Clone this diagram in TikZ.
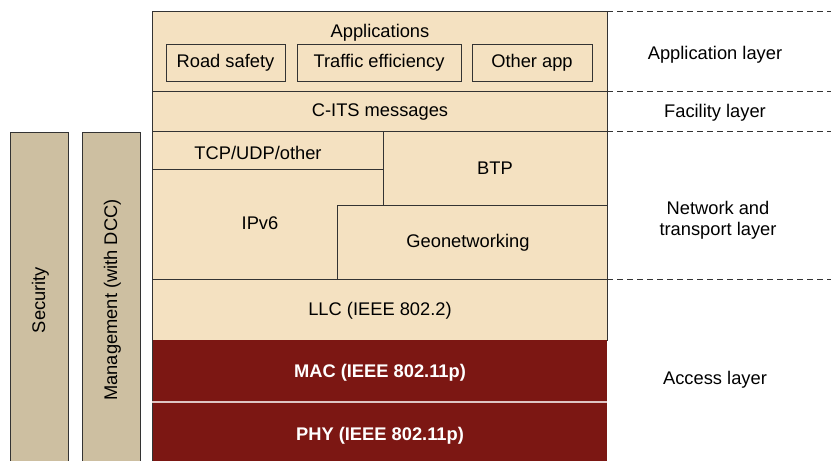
\documentclass[tikz,border=0pt]{standalone}
\usepackage{fontspec}
\setmainfont{Liberation Sans}
\definecolor{tan}{HTML}{F4E1C1}
\definecolor{side}{HTML}{CDBFA1}
\definecolor{dred}{HTML}{7C1713}
\definecolor{edge}{HTML}{333333}
\begin{document}
\begin{tikzpicture}[x=1pt,y=-1pt,
  txt/.style={font=\fontsize{18.3}{21}\selectfont, inner sep=0pt, align=center, yshift=-1.5pt},
  rtxt/.style={font=\fontsize{18.3}{21}\selectfont, inner sep=0pt, rotate=90},
  wtxt/.style={txt, text=white, font=\fontsize{18.3}{21}\selectfont\bfseries},
  box/.style={draw=edge, line width=1pt, fill=tan},
  sidebox/.style={draw=edge, line width=1pt, fill=side},
  sep/.style={draw=edge, line width=1pt, dash pattern=on 6pt off 4pt}]
\useasboundingbox (0,0) rectangle (831,461);
% side columns
\draw[sidebox] (10,132) rectangle (68,470);
\draw[sidebox] (82,132) rectangle (140,470);
\node[rtxt] (sec) at (40.5,300) {Security};
\node[rtxt] (mgmt) at (112.5,300) {Management (with DCC)};
% stack
\draw[box] (152,11) rectangle (607,91);
\node[txt] (apps) at (380,31) {Applications};
\node[box, txt, yshift=1.5pt, minimum width=119pt, minimum height=37pt] (road) at (225.5,62.5) {Road safety};
\node[box, txt, yshift=1.5pt, minimum width=164pt, minimum height=37pt] (traffic) at (379,62.5) {Traffic efficiency};
\node[box, txt, yshift=1.5pt, minimum width=120pt, minimum height=37pt] (other) at (532,62.5) {Other app};
\draw[box] (152,91) rectangle (607,131);
\node[txt] (cits) at (380,111) {C-ITS messages};
\draw[box] (152,131) rectangle (607,279);
\draw[draw=edge, line width=1pt] (152,169) -- (383,169);
\draw[draw=edge, line width=1pt] (383,131) -- (383,205);
\draw[draw=edge, line width=1pt] (337,279) -- (337,205) -- (607,205);
\node[txt] (tcp) at (258,151) {TCP/UDP/other};
\node[txt] (btp) at (495,167) {BTP};
\node[txt] (ipv6) at (260,222) {IPv6};
\node[txt] (geo) at (468,241) {Geonetworking};
\draw[box] (152,279) rectangle (607,340);
\node[txt] (llc) at (380,309) {LLC (IEEE 802.2)};
\fill[dred] (152,340) rectangle (607,470);
\draw[draw=edge, line width=1pt] (152,340) -- (152,470);
\draw[color=white!75!dred, line width=1.2pt] (152,402) -- (607,402);
\node[wtxt] (mac) at (380,371) {MAC (IEEE 802.11p)};
\node[wtxt] (phy) at (380,434) {PHY (IEEE 802.11p)};
% dashed separators
\coordinate (d1) at (607,11); \coordinate (e1) at (831,11);
\coordinate (d2) at (607,91); \coordinate (e2) at (831,91);
\coordinate (d3) at (607,131); \coordinate (e3) at (831,131);
\coordinate (d4) at (607,279); \coordinate (e4) at (831,279);
\draw[sep] (d1) -- (e1);
\draw[sep] (d2) -- (e2);
\draw[sep] (d3) -- (e3);
\draw[sep] (d4) -- (e4);
% layer labels
\node[txt] (lapp) at (715,53) {Application layer};
\node[txt] (lfac) at (715,111) {Facility layer};
\node[txt] (lnet) at (718,219) {Network and\\transport layer};
\node[txt] (lacc) at (715,378) {Access layer};
\end{tikzpicture}
\end{document}
